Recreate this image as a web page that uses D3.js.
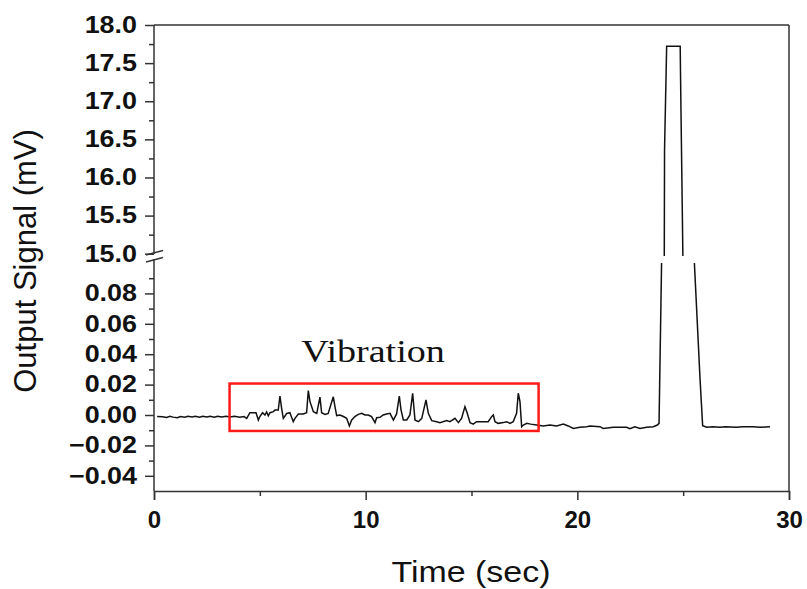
<!DOCTYPE html>
<html>
<head>
<meta charset="utf-8">
<script src="https://cdn.jsdelivr.net/npm/d3@7"></script>
<style>
  body { margin: 0; background: #fff; }
  svg { display: block; }
  .tickLab { font-family: Arial, "Liberation Sans", sans-serif; font-weight: bold; fill: #111; }
</style>
</head>
<body>
<div id="chart"></div>
<script>
// time axis (sec) and output signal (mV)
var timeSec = [0.15, 0.4, 0.6, 0.75, 0.9, 1.1, 1.25, 1.45, 1.6, 1.8, 1.95, 2.15, 2.3, 2.5, 2.65, 2.85, 3.0, 3.2, 3.4, 3.6,
  3.8, 4.05, 4.25, 4.38, 4.53, 4.82, 4.93, 5.0, 5.13, 5.24, 5.32, 5.4, 5.48, 5.64, 5.72, 5.87, 5.95, 6.03, 6.11, 6.27,
  6.42, 6.58, 6.66, 6.82, 7.05, 7.21, 7.29, 7.37, 7.53, 7.69, 7.84, 7.92, 8.08, 8.23, 8.47, 8.55, 8.63, 8.79, 8.95, 9.1,
  9.23, 9.34, 9.49, 9.65, 9.81, 9.97, 10.12, 10.28, 10.44, 10.52, 10.68, 10.83, 10.99, 11.15, 11.31, 11.46, 11.59, 11.67, 11.78, 11.94,
  12.09, 12.22, 12.33, 12.49, 12.65, 12.85, 12.96, 13.12, 13.35, 13.51, 13.83, 13.98, 14.22, 14.38, 14.53, 14.69, 14.8, 14.93, 15.08, 15.24,
  15.56, 15.79, 15.95, 16.03, 16.11, 16.26, 16.5, 16.66, 16.82, 16.97, 17.13, 17.21, 17.29, 17.37, 17.45, 17.61, 17.8, 18.08, 18.39, 18.71,
  19.02, 19.34, 19.57, 19.81, 20.12, 20.44, 20.6, 21.07, 21.22, 21.7, 22.33, 22.48, 22.72, 22.96, 23.27, 23.59, 23.78, 23.86,
  23.98, 24.12, 24.22, 24.86, 24.88, 24.95, 24.99, 25.53, 25.8, 25.92,
  26.11, 26.4, 26.74, 27.0, 27.52, 27.8, 28.31, 28.63, 29.1];
var signalMV = [-0.001, -0.0012, -0.0016, -0.0008, -0.0014, -0.0018, -0.001, -0.0014, -0.0008, -0.0013, -0.0009, -0.0014, -0.0008, -0.0013, -0.0009, -0.0014, -0.0008, -0.0013, -0.0008, -0.0013,
  -0.0009, -0.0014, -0.001, -0.0022, 0.0015, 0.0015, -0.0033, -0.001, 0.0015, 0.0, 0.002, -0.0005, 0.0015, 0.0022, 0.0033, 0.0033, 0.0125, 0.0044, -0.0022, 0.001,
  0.0015, -0.0044, -0.0022, 0.0007, 0.0007, 0.0015, 0.016, 0.0088, 0.0022, 0.001, 0.0118, 0.0015, 0.0004, 0.001, 0.012, 0.0055, -0.0004, 0.0, -0.001, -0.0022,
  -0.0072, -0.0033, -0.001, 0.0004, 0.0011, 0.0, 0.0, -0.0011, -0.005, -0.0018, -0.0015, 0.0, 0.0007, 0.0011, -0.0033, 0.0007, 0.0125, 0.0033, -0.0033, -0.0033,
  0.0, 0.0143, -0.0033, -0.0044, -0.0022, 0.0099, 0.0011, -0.0037, -0.0044, -0.005, -0.0037, -0.0044, -0.0022, -0.005, -0.0022, 0.0055, 0.0011, -0.005, -0.006, -0.0044,
  -0.0044, -0.0044, -0.0011, 0.0, -0.0044, -0.0055, -0.005, -0.0044, -0.0055, -0.0044, 0.0011, 0.0143, 0.0088, -0.0077, -0.0066, -0.0055, -0.006, -0.0066, -0.0072, -0.0066,
  -0.0072, -0.0059, -0.0072, -0.0088, -0.0081, -0.0077, -0.0072, -0.0077, -0.0088, -0.0081, -0.0081, -0.009, -0.0077, -0.0088, -0.0081, -0.0077, -0.0066, -0.0055,
  0.10, 16.36, 17.72, 17.72, 17.24, 15.76, 14.9, 0.10, 0.023, -0.007,
  -0.0081, -0.0077, -0.0081, -0.0077, -0.0081, -0.0077, -0.0077, -0.0081, -0.0077];

var xTicks = [0, 10, 20, 30];
var xMinor = [5, 15, 25];
var upperTicks = [15.0, 15.5, 16.0, 16.5, 17.0, 17.5, 18.0];
var upperMinor = [15.25, 15.75, 16.25, 16.75, 17.25, 17.75];
var lowerTicks = [-0.04, -0.02, 0.00, 0.02, 0.04, 0.06, 0.08];
var lowerMinor = [-0.03, -0.01, 0.01, 0.03, 0.05, 0.07, 0.09];

// annotation box around the vibration part
var boxTime = [3.57, 18.17];
var boxSignal = [-0.0105, 0.0207];

var width = 807;
var height = 589;
var plotL = 154, plotR = 789, plotT = 25, plotB = 491;
var upperBot = 256, lowerTop = 263;
var sx = 1.17;

var svg = d3.select("#chart").append("svg")
  .attr("width", width)
  .attr("height", height);

var x = d3.scaleLinear().domain([0, 30]).range([plotL, plotR]);
var yUp = d3.scaleLinear().domain([14.97, 18]).range([upperBot, plotT]);
var yLow = d3.scaleLinear().domain([-0.05, 0.10]).range([plotB, lowerTop]);

var defs = svg.append("defs");
defs.append("clipPath").attr("id", "clipUp").append("rect")
  .attr("x", plotL).attr("y", plotT).attr("width", plotR - plotL).attr("height", upperBot - plotT);
defs.append("clipPath").attr("id", "clipLow").append("rect")
  .attr("x", plotL).attr("y", lowerTop).attr("width", plotR - plotL).attr("height", plotB - lowerTop);

var pts = timeSec.map(function(t, i) { return [t, signalMV[i]]; });

svg.append("path")
  .datum(pts)
  .attr("clip-path", "url(#clipUp)")
  .attr("fill", "none")
  .attr("stroke", "#111")
  .attr("stroke-width", 1.5)
  .attr("d", d3.line().x(function(d) { return x(d[0]); }).y(function(d) { return yUp(d[1]); }));

svg.append("path")
  .datum(pts)
  .attr("clip-path", "url(#clipLow)")
  .attr("fill", "none")
  .attr("stroke", "#111")
  .attr("stroke-width", 1.5)
  .attr("d", d3.line().x(function(d) { return x(d[0]); }).y(function(d) { return yLow(d[1]); }));

// frame (top and right)
svg.append("line").attr("x1", plotL).attr("x2", plotR).attr("y1", plotT).attr("y2", plotT)
  .attr("stroke", "#333").attr("stroke-width", 1.5);
svg.append("line").attr("x1", plotR).attr("x2", plotR).attr("y1", plotT).attr("y2", plotB)
  .attr("stroke", "#333").attr("stroke-width", 1.5);

function styleAxis(g) {
  g.select(".domain").attr("stroke", "#333").attr("stroke-width", 1.5);
  g.selectAll(".tick line").attr("stroke", "#333").attr("stroke-width", 1.5);
}

// x axis
var gx = svg.append("g").attr("transform", "translate(0," + plotB + ")")
  .call(d3.axisBottom(x).tickValues(xTicks).tickFormat(d3.format("d")).tickSizeOuter(0).tickSize(9).tickPadding(11));
styleAxis(gx);
gx.selectAll("text").attr("class", "tickLab").style("font-size", "24px").attr("fill", "#111");
svg.append("g").attr("transform", "translate(0," + plotB + ")")
  .call(d3.axisBottom(x).tickValues(xMinor).tickFormat("").tickSize(5))
  .call(function(g) { g.select(".domain").remove(); styleAxis(g); });

// y axes (upper and lower segments)
function yAxis(scale, ticks, minor, fmt, y0, y1) {
  var g = svg.append("g").attr("transform", "translate(" + plotL + ",0)")
    .call(d3.axisLeft(scale).tickValues(ticks).tickFormat(d3.format(fmt)).tickSizeOuter(0).tickSize(9).tickPadding(8));
  styleAxis(g);
  g.select(".domain").attr("d", "M0," + y0 + "V" + y1);
  g.selectAll("text").attr("class", "tickLab").style("font-size", "23px").attr("fill", "#111")
    .attr("x", null)
    .attr("transform", "translate(-17,0) scale(" + sx + ",1)");
  svg.append("g").attr("transform", "translate(" + plotL + ",0)")
    .call(d3.axisLeft(scale).tickValues(minor).tickFormat("").tickSize(5))
    .call(function(m) { m.select(".domain").remove(); styleAxis(m); });
}
yAxis(yUp, upperTicks, upperMinor, ".1f", plotT, 254);
yAxis(yLow, lowerTicks, lowerMinor, ".2f", 259, plotB);

// break marks
[[255, 250.5], [262, 257.5]].forEach(function(b) {
  svg.append("line")
    .attr("x1", plotL - 8).attr("y1", b[0]).attr("x2", plotL + 9).attr("y2", b[1])
    .attr("stroke", "#333").attr("stroke-width", 1.3);
});

// annotation
svg.append("rect")
  .attr("x", x(boxTime[0])).attr("y", yLow(boxSignal[1]))
  .attr("width", x(boxTime[1]) - x(boxTime[0]))
  .attr("height", yLow(boxSignal[0]) - yLow(boxSignal[1]))
  .attr("fill", "none").attr("stroke", "#ff1a1a").attr("stroke-width", 2.5);

svg.append("text")
  .attr("transform", "translate(373,362) scale(1.19,1)")
  .attr("text-anchor", "middle")
  .style("font-family", "'Times New Roman', 'Liberation Serif', serif")
  .style("font-size", "32px")
  .attr("fill", "#111")
  .text("Vibration");

// axis titles
svg.append("text")
  .attr("transform", "translate(471,582) scale(1.17,1)")
  .attr("text-anchor", "middle")
  .style("font-family", "Arial, 'Liberation Sans', sans-serif")
  .style("font-size", "29px")
  .attr("fill", "#111")
  .text("Time (sec)");

svg.append("text")
  .attr("transform", "translate(36,261) rotate(-90)")
  .attr("text-anchor", "middle")
  .style("font-family", "Arial, 'Liberation Sans', sans-serif")
  .style("font-size", "31px")
  .attr("fill", "#111")
  .text("Output Signal (mV)");
</script>
</body>
</html>
